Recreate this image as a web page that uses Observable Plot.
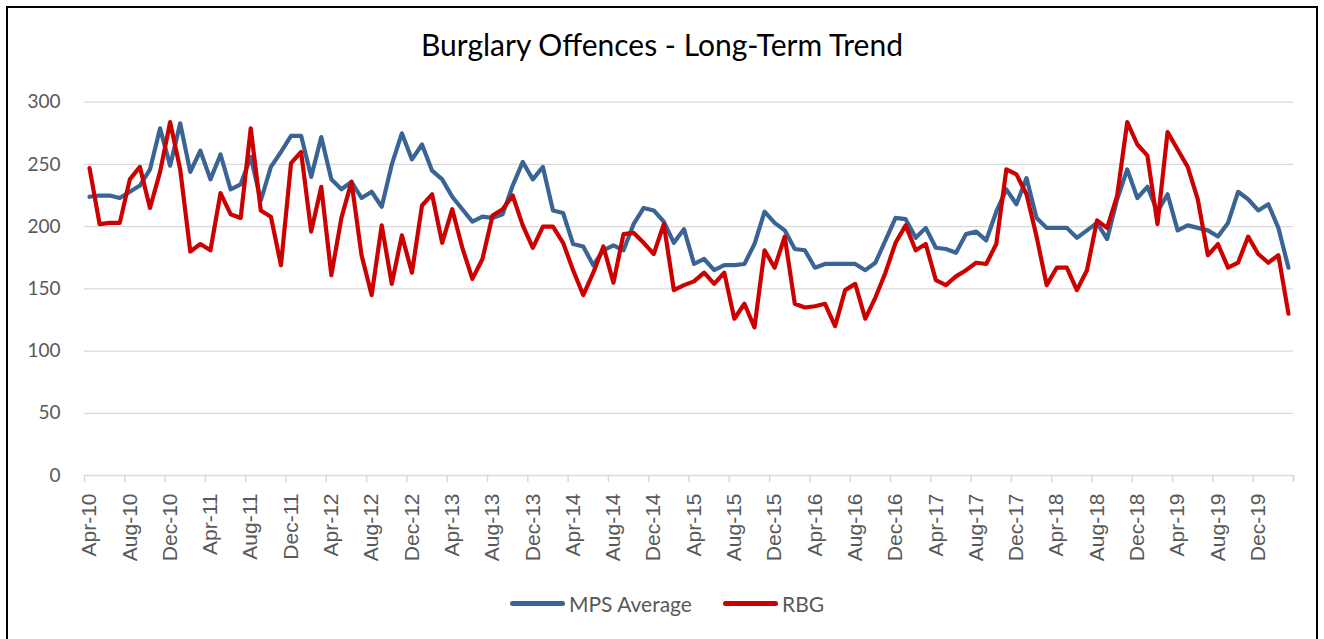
<!DOCTYPE html>
<html>
<head>
<meta charset="utf-8">
<script src="https://cdn.jsdelivr.net/npm/d3@7"></script>
<script src="https://cdn.jsdelivr.net/npm/@observablehq/plot@0.6"></script>
<style>
  html, body { margin: 0; padding: 0; background: #fff; width: 1324px; height: 639px; overflow: hidden; }
  #frame { position: absolute; left: 6px; top: 6px; width: 1312px; height: 660px; border: 2px solid #000; box-sizing: border-box; }
  #title { position: absolute; left: 0; top: 29px; width: 1324px; text-align: center; font-family: Lato, "Noto Sans", sans-serif; font-size: 30px; color: #000; line-height: 1; }
  #chart { position: absolute; left: 0; top: 0; }
  #legend { position: absolute; left: 0; top: 590px; width: 1324px; font-family: Lato, "Noto Sans", sans-serif; font-size: 21px; color: #595959; }
  .item { position: absolute; top: 0; display: flex; align-items: center; height: 26px; }
  .sw { width: 55px; height: 5px; border-radius: 3px; margin-right: 4px; }
</style>
</head>
<body>
<div id="frame"></div>
<div id="title">Burglary Offences - Long-Term Trend</div>
<div id="chart"></div>
<div id="legend"></div>
<script>
const monthNames = ["Apr","May","Jun","Jul","Aug","Sep","Oct","Nov","Dec","Jan","Feb","Mar"];
const startYear = 10;
const monthCount = 120;
const seriesNames = ["MPS Average", "RBG"];
const seriesColors = ["#3a6496", "#cc0000"];

const mpsAverage = [
  224,225,225,223,228,233,246,279,249,283,244,261,
  238,258,230,234,256,221,248,260,273,273,240,272,
  238,230,236,223,228,216,250,275,254,266,245,238,
  224,214,204,208,207,210,233,252,238,248,213,211,
  186,184,169,181,185,181,202,215,213,204,187,198,
  170,174,165,169,169,170,186,212,203,197,182,181,
  167,170,170,170,170,165,171,189,207,206,191,199,
  183,182,179,194,196,189,212,230,218,239,207,199,
  199,199,191,197,203,190,222,246,223,232,212,226,
  197,201,199,197,192,203,228,222,213,218,199,167
];
const rbg = [
  247,202,203,203,238,248,215,244,284,246,180,186,
  181,227,210,207,279,213,208,169,251,260,196,232,
  161,207,236,177,145,201,154,193,163,217,226,187,
  214,183,158,174,209,214,225,201,183,200,200,187,
  165,145,163,184,155,194,195,187,178,202,149,153,
  156,163,154,163,126,138,119,181,167,192,138,135,
  136,138,120,149,154,126,143,163,187,201,181,186,
  157,153,160,165,171,170,186,246,242,226,192,153,
  167,167,149,165,205,199,225,284,266,257,202,276,
  262,248,222,177,186,167,171,192,178,171,177,130
];
const yTicks = [0, 50, 100, 150, 200, 250, 300];

// month labels "Apr-10" ... "Mar-20"
const months = d3.range(monthCount).map(i => {
  const m = i % 12;
  const fy = startYear + Math.floor(i / 12) + (m >= 9 ? 1 : 0);
  return monthNames[m] + "-" + String(fy).padStart(2, "0");
});
const labelIdx = d3.range(0, monthCount, 4);
const boundaryIdx = d3.range(-0.5, monthCount, 4).concat([monthCount - 0.5]);

const rows = [];
seriesNames.forEach((s, k) => {
  const vals = k === 0 ? mpsAverage : rbg;
  vals.forEach((v, i) => rows.push({series: s, i, value: v}));
});

const W = 1324, H = 580;
const chart = Plot.plot({
  width: W,
  height: H,
  marginLeft: 84,
  marginRight: 31,
  marginTop: 101.7,
  marginBottom: H - 475,
  style: {background: "transparent", overflow: "visible"},
  x: {type: "linear", domain: [-0.5, monthCount - 0.5], axis: null},
  y: {domain: [0, 300], axis: null},
  color: {domain: seriesNames, range: seriesColors},
  marks: [
    Plot.ruleY(yTicks.filter(d => d > 0), {stroke: "#d9d9d9", strokeWidth: 1.3}),
    Plot.text(yTicks, {y: d => d, text: d => String(d), frameAnchor: "left",
      textAnchor: "end", dx: -24, fontSize: 19,
      fontFamily: "Lato, 'Noto Sans', sans-serif", fill: "#595959"}),
    Plot.lineY(rows, {x: "i", y: "value", z: "series", stroke: "series",
      strokeWidth: 4.2, strokeLinejoin: "round", strokeLinecap: "round"}),
    Plot.ruleY([0], {stroke: "#d9d9d9", strokeWidth: 1.5}),
    Plot.axisX({ticks: boundaryIdx, tickSize: 7, stroke: "#d9d9d9", strokeWidth: 1.5,
      tickFormat: () => "", label: null}),
    Plot.axisX({ticks: labelIdx, tickSize: 0, tickPadding: 18, tickRotate: -90,
      tickFormat: i => months[i], fontSize: 21,
      fontFamily: "'Liberation Sans', Arial, sans-serif", fill: "#595959", label: null})
  ]
});
document.getElementById("chart").appendChild(chart);

// legend
const legend = document.getElementById("legend");
const legendLeft = [510, 723];
seriesNames.forEach((s, k) => {
  const item = document.createElement("div");
  item.className = "item";
  item.style.left = legendLeft[k] + "px";
  const sw = document.createElement("span");
  sw.className = "sw";
  sw.style.background = seriesColors[k];
  const t = document.createElement("span");
  t.textContent = s;
  item.appendChild(sw);
  item.appendChild(t);
  legend.appendChild(item);
});
</script>
</body>
</html>
